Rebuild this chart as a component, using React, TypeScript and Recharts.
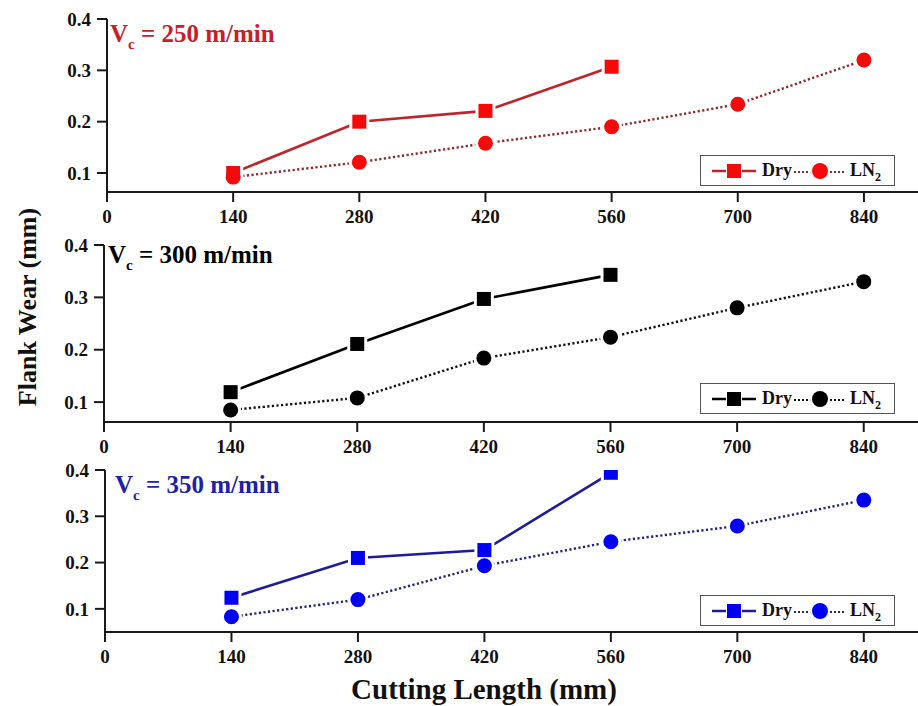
import React from "react";
import { LineChart, Line, XAxis, YAxis } from "recharts";

// cutting length (mm) at which wear was measured
const lengths = [140, 280, 420, 560, 700, 840];
const xTicks = [0, 140, 280, 420, 560, 700, 840];
const yTicks = [0.1, 0.2, 0.3, 0.4];

// flank wear (mm)
const dry250 = [0.1, 0.2, 0.221, 0.307];
const ln250 = [0.092, 0.121, 0.158, 0.19, 0.234, 0.32];
const dry300 = [0.119, 0.211, 0.297, 0.343];
const ln300 = [0.085, 0.108, 0.184, 0.224, 0.28, 0.33];
const dry350 = [0.124, 0.21, 0.227, 0.394];
const ln350 = [0.083, 0.12, 0.193, 0.245, 0.279, 0.335];

const speeds = ["250", "300", "350"];

const FONT = '"Liberation Serif", "Times New Roman", serif';
const AXIS = "#1a1a1a";

type Panel = {
  speed: string;
  dry: number[];
  ln: number[];
  top: number;
  height: number;
  plotLeft: number;
  yMin: number;
  marker: string;
  line: string;
  dotted: string;
  text: string;
  titleX: number;
  titleTop: number;
  legendTop: number;
};

const panels: Panel[] = [
  {
    speed: speeds[0], dry: dry250, ln: ln250,
    top: 0, height: 235, plotLeft: 107, yMin: 0.063,
    marker: "#f50a0a", line: "#c0242b", dotted: "#8e2a2e", text: "#c8202a",
    titleX: 110, titleTop: 22, legendTop: 155,
  },
  {
    speed: speeds[1], dry: dry300, ln: ln300,
    top: 226, height: 239, plotLeft: 104, yMin: 0.062,
    marker: "#000", line: "#000", dotted: "#111", text: "#000",
    titleX: 108, titleTop: 243, legendTop: 383,
  },
  {
    speed: speeds[2], dry: dry350, ln: ln350,
    top: 451, height: 224, plotLeft: 105, yMin: 0.05,
    marker: "#0000f5", line: "#1d1d9a", dotted: "#23237a", text: "#1f1fa8",
    titleX: 115, titleTop: 473, legendTop: 595,
  },
];

const makeDot = (shape: "square" | "circle", fill: string, halo: boolean) =>
  // eslint-disable-next-line @typescript-eslint/no-explicit-any
  (props: any) => {
    const { cx, cy, value, index } = props;
    if (cx == null || cy == null || value == null) return <g key={`e${index}`} />;
    const pad = halo ? 3 : 0;
    const color = halo ? "#fff" : fill;
    if (shape === "square") {
      const s = 14 + 2 * pad;
      return <rect key={`d${index}`} x={cx - s / 2} y={cy - s / 2} width={s} height={s} fill={color} />;
    }
    return <circle key={`d${index}`} cx={cx} cy={cy} r={7.5 + pad} fill={color} />;
  };

const tickStyle = { fontFamily: FONT, fontSize: 19, fontWeight: 700, fill: "#111" };

function LegendBox({ p }: { p: Panel }) {
  return (
    <div
      style={{
        position: "absolute",
        left: 700,
        top: p.legendTop,
        width: 195,
        height: 31,
        boxSizing: "border-box",
        border: "1px solid #555",
        background: "#fff",
        display: "flex",
        alignItems: "center",
        fontFamily: FONT,
        fontWeight: 700,
        fontSize: 18,
        color: "#111",
      }}
    >
      <svg width={46} height={20} style={{ marginLeft: 10 }}>
        <line x1={1} y1={10} x2={45} y2={10} stroke={p.line} strokeWidth={2.5} />
        <rect x={15} y={3} width={16} height={14} fill="#fff" />
        <rect x={16} y={3} width={14} height={14} fill={p.marker} />
      </svg>
      <span style={{ marginLeft: 5 }}>Dry</span>
      <svg width={54} height={20} style={{ marginLeft: 1 }}>
        <line x1={1} y1={11} x2={53} y2={11} stroke={p.dotted} strokeWidth={2} strokeDasharray="2 2" />
        <circle cx={27} cy={10} r={10} fill="#fff" />
        <circle cx={27} cy={10} r={8} fill={p.marker} />
      </svg>
      <span style={{ marginLeft: 3 }}>
        LN<span style={{ fontSize: 12, position: "relative", top: 5 }}>2</span>
      </span>
    </div>
  );
}

function WearPanel({ p }: { p: Panel }) {
  const rows = lengths.map((x, i) => ({
    x,
    dry: i < p.dry.length ? p.dry[i] : null,
    ln2: p.ln[i],
  }));
  return (
    <div style={{ position: "absolute", left: 0, top: p.top, width: 918, height: p.height }}>
      <LineChart
        width={918}
        height={p.height}
        data={rows}
        margin={{ top: 19, right: 0, bottom: 0, left: p.plotLeft - 60 }}
      >
        <XAxis
          dataKey="x"
          type="number"
          domain={[0, 900]}
          ticks={xTicks}
          height={43}
          tickSize={10}
          tickMargin={8}
          tick={tickStyle}
          axisLine={{ stroke: AXIS, strokeWidth: 2 }}
          tickLine={{ stroke: AXIS, strokeWidth: 2 }}
        />
        <YAxis
          type="number"
          domain={[p.yMin, 0.4]}
          allowDataOverflow
          ticks={yTicks}
          tickFormatter={(v: number) => v.toFixed(1)}
          width={60}
          tickSize={10}
          tickMargin={6}
          tick={tickStyle}
          axisLine={{ stroke: AXIS, strokeWidth: 2 }}
          tickLine={{ stroke: AXIS, strokeWidth: 2 }}
        />
        <Line
          dataKey="ln2"
          stroke={p.dotted}
          strokeWidth={2.4}
          strokeDasharray="2.2 2.4"
          dot={false}
          activeDot={false}
          isAnimationActive={false}
        />
        <Line
          dataKey="dry"
          stroke={p.line}
          strokeWidth={2.6}
          dot={false}
          activeDot={false}
          isAnimationActive={false}
        />
        <Line dataKey="ln2" stroke="none" dot={makeDot("circle", p.marker, true)} activeDot={false} isAnimationActive={false} />
        <Line dataKey="dry" stroke="none" dot={makeDot("square", p.marker, true)} activeDot={false} isAnimationActive={false} />
        <Line dataKey="ln2" stroke="none" dot={makeDot("circle", p.marker, false)} activeDot={false} isAnimationActive={false} />
        <Line dataKey="dry" stroke="none" dot={makeDot("square", p.marker, false)} activeDot={false} isAnimationActive={false} />
      </LineChart>
    </div>
  );
}

export default function App() {
  return (
    <div
      style={{
        position: "absolute",
        left: 0,
        top: 0,
        width: 918,
        height: 706,
        background: "#fff",
        overflow: "hidden",
      }}
    >
      {panels.map((p) => (
        <WearPanel key={p.speed} p={p} />
      ))}
      {panels.map((p) => (
        <div
          key={`t${p.speed}`}
          style={{
            position: "absolute",
            left: p.titleX,
            top: p.titleTop - 1,
            fontFamily: FONT,
            fontWeight: 700,
            fontSize: 25,
            lineHeight: "25px",
            color: p.text,
            whiteSpace: "nowrap",
          }}
        >
          V<span style={{ fontSize: 15, position: "relative", top: 7 }}>c</span> = {p.speed} m/min
        </div>
      ))}
      {panels.map((p) => (
        <LegendBox key={`l${p.speed}`} p={p} />
      ))}
      <div
        style={{
          position: "absolute",
          left: 28 - 150,
          top: 307 - 13,
          width: 300,
          height: 26,
          lineHeight: "26px",
          textAlign: "center",
          transform: "rotate(-90deg)",
          fontFamily: FONT,
          fontWeight: 700,
          fontSize: 26,
          color: "#111",
        }}
      >
        Flank Wear (mm)
      </div>
      <div
        style={{
          position: "absolute",
          left: 484 - 200,
          top: 675,
          width: 400,
          lineHeight: "28px",
          textAlign: "center",
          fontFamily: FONT,
          fontWeight: 700,
          fontSize: 29,
          color: "#111",
        }}
      >
        Cutting Length (mm)
      </div>
    </div>
  );
}
